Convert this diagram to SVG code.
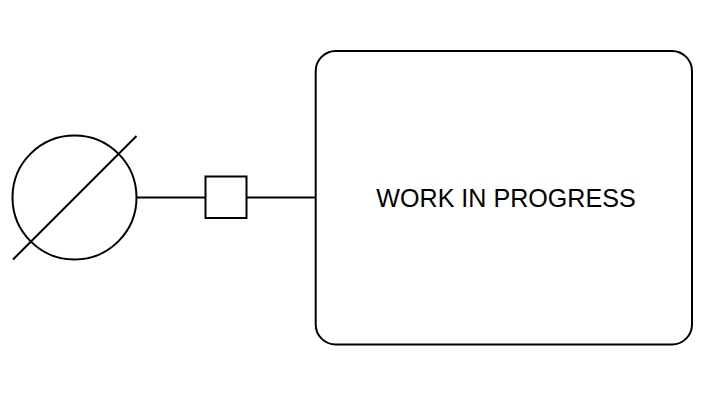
<svg xmlns="http://www.w3.org/2000/svg" width="715" height="413" viewBox="0 0 715 413">
<style>
.s{fill:#fff;stroke:#000;stroke-width:2}
.l{fill:none;stroke:#000;stroke-width:2}
text{font-family:"Liberation Sans",Arial,sans-serif;font-size:25.100px;fill:#000}
</style>
<rect width="715" height="413" fill="#fff"/>
<g id="connectors">
<path class="l" d="M136 197.500H205"/>
<path class="l" d="M247 197.500H316"/>
</g>
<g id="source">
<circle class="s" cx="74.500" cy="197.500" r="62"/>
<path class="l" d="M13 259.500L136.500 136"/>
</g>
<g id="junction">
<rect class="s" x="205.500" y="176.500" width="41" height="41.500"/>
</g>
<g id="work">
<rect class="s" x="315.700" y="51" width="376.300" height="293.500" rx="20" ry="20"/>
<text x="506" y="207" text-anchor="middle">WORK IN PROGRESS</text>
</g>
</svg>
